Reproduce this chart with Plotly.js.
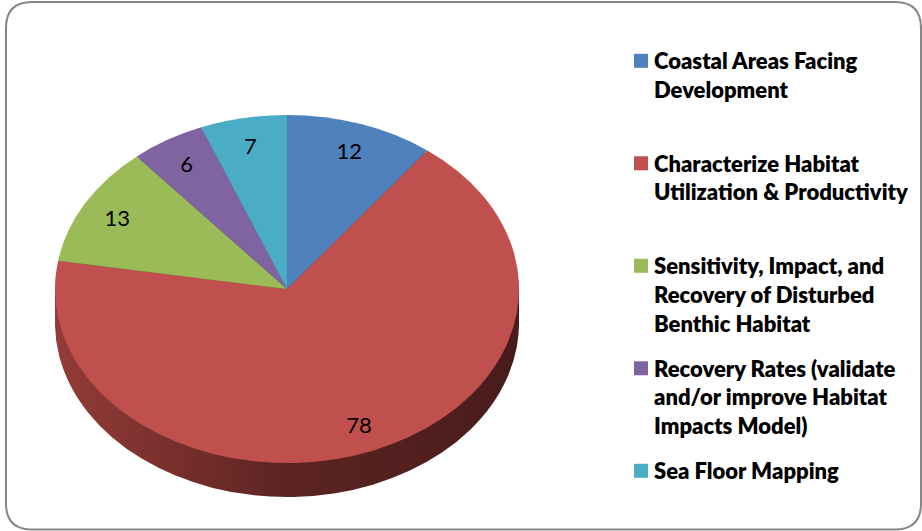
<!DOCTYPE html>
<html><head><meta charset="utf-8">
<script src="https://cdn.plot.ly/plotly-3.0.1.min.js"></script>
<style>html,body{margin:0;padding:0;background:#fff}#chart{width:922px;height:531px}</style>
</head><body><div id="chart"></div>
<script>
// ---- data ----
const categories = [
  "Coastal Areas Facing<br>Development",
  "Characterize Habitat<br>Utilization & Productivity",
  "Sensitivity, Impact, and<br>Recovery of Disturbed<br>Benthic Habitat",
  "Recovery Rates (validate<br>and/or improve Habitat<br>Impacts Model)",
  "Sea Floor Mapping"
];
const values = [12, 78, 13, 6, 7];
const colors = ["#4F81BD", "#C0504D", "#9BBB59", "#8064A2", "#4BACC6"];
const sideColors = ["#2c4a6e", "#6e2a28", "#5a6e32", "#4a3a5e", "#2b6473"];

// ---- layout constants ----
const W = 922, H = 531;
const CX = 287, CY = 289, R = 232, SQ = 0.75, DEPTH = 34;
const depths = [DEPTH, 26, 18, 10, 4];
const LABEL_R = 0.84;       // data labels placed at this fraction of the radius
const LEGEND_STEP = 102.5;  // vertical distance between legend entries (px)

const domain = {
  x: [(CX - R) / W, (CX + R) / W],
  y: [1 - (CY + R) / H, 1 - (CY - R) / H]
};

const common = {
  type: "pie", labels: categories, values: values, sort: false,
  direction: "clockwise", rotation: 0, domain: domain
};

const data = depths.map(d => Object.assign({}, common, {
  marker: {colors: sideColors, line: {width: 0}},
  textinfo: "none", hoverinfo: "skip", showlegend: false
}));
data.push(Object.assign({}, common, {
  marker: {colors: colors, line: {width: 0}},
  textinfo: "value", textposition: "inside", insidetextorientation: "horizontal",
  textfont: {family: "Lato, Calibri, sans-serif", size: 22, color: "#000"},
  hoverinfo: "label+value", showlegend: true
}));

function px(x) { return (x / W).toFixed(5); }
function py(y) { return (1 - y / H).toFixed(5); }
const bx0 = 6, by0 = 2, bx1 = 921, by1 = 529.5, br = 26;
const borderPath =
  "M" + px(bx0 + br) + "," + py(by0) +
  " L" + px(bx1 - br) + "," + py(by0) +
  " Q" + px(bx1) + "," + py(by0) + " " + px(bx1) + "," + py(by0 + br) +
  " L" + px(bx1) + "," + py(by1 - br) +
  " Q" + px(bx1) + "," + py(by1) + " " + px(bx1 - br) + "," + py(by1) +
  " L" + px(bx0 + br) + "," + py(by1) +
  " Q" + px(bx0) + "," + py(by1) + " " + px(bx0) + "," + py(by1 - br) +
  " L" + px(bx0) + "," + py(by0 + br) +
  " Q" + px(bx0) + "," + py(by0) + " " + px(bx0 + br) + "," + py(by0) + " Z";

const layout = {
  width: W, height: H,
  margin: {l: 0, r: 0, t: 0, b: 0},
  paper_bgcolor: "#fff",
  showlegend: true,
  legend: {
    x: 614 / W, xanchor: "left", y: 1 - 40 / H, yanchor: "top", valign: "top",
    font: {family: "Lato, Calibri, sans-serif", size: 22, color: "#000", weight: 800},
    bgcolor: "rgba(0,0,0,0)", tracegroupgap: 0
  },
  shapes: [{
    type: "path", xref: "paper", yref: "paper", path: borderPath,
    line: {color: "#868686", width: 2}, fillcolor: "rgba(0,0,0,0)", layer: "below"
  }]
};

Plotly.newPlot("chart", data, layout, {displayModeBar: false, staticPlot: true}).then(gd => {
  const svg = gd.querySelector(".main-svg");
  const NS = "http://www.w3.org/2000/svg";
  const defs = svg.querySelector("defs");
  const grad = document.createElementNS(NS, "linearGradient");
  grad.setAttribute("id", "sideGrad");
  grad.setAttribute("x1", "0"); grad.setAttribute("x2", "1");
  grad.setAttribute("y1", "0"); grad.setAttribute("y2", "0");
  [["0", "#943b38"], ["0.5", "#5c2422"], ["1", "#481c1b"]].forEach(s => {
    const st = document.createElementNS(NS, "stop");
    st.setAttribute("offset", s[0]); st.setAttribute("stop-color", s[1]);
    grad.appendChild(st);
  });
  defs.appendChild(grad);

  // tilt the pie: squash vertically, side layers shifted down
  const traces = gd.querySelectorAll(".pielayer > g.trace");
  traces.forEach((g, i) => {
    const d = i < depths.length ? depths[i] : 0;
    g.setAttribute("transform", `translate(0,${CY + d}) scale(1,${SQ}) translate(0,${-CY})`);
    if (i < depths.length) {
      const paths = g.querySelectorAll("path.surface");
      if (paths[1]) paths[1].style.fill = "url(#sideGrad)";
    }
  });
  // data labels: push to LABEL_R along their direction, keep glyphs unsquashed
  const top = traces[traces.length - 1];
  top.querySelectorAll("g.slicetext").forEach(t => {
    const b = t.getBBox();
    const cx = b.x + b.width / 2, cy = b.y + b.height / 2;
    const vx = cx - CX, vy = cy - CY;
    const len = Math.hypot(vx, vy) || 1;
    const k = LABEL_R * R / len;
    const dx = vx * (k - 1), dy = vy * (k - 1);
    t.setAttribute("transform",
      `translate(${dx},${dy}) translate(0,${cy}) scale(1,${1 / SQ}) translate(0,${-cy})`);
  });
  // legend: even spacing of entry tops, symbols closer to text and a bit larger
  const scroll = gd.querySelector(".legend .scrollbox");
  if (scroll) scroll.removeAttribute("clip-path");
  const items = gd.querySelectorAll(".legend g.traces");
  let top0 = null;
  items.forEach((it, i) => {
    const m = /translate\(([-\d.]+)[ ,]+([-\d.]+)\)/.exec(it.getAttribute("transform") || "");
    const x = m ? parseFloat(m[1]) : 0, y = m ? parseFloat(m[2]) : 0;
    const txt = it.querySelector("text.legendtext");
    const tb = txt ? txt.getBBox() : {y: 0};
    if (top0 === null) top0 = y + tb.y;
    const newY = top0 + i * LEGEND_STEP - tb.y;
    it.setAttribute("transform", `translate(${x},${newY})`);
    const pts = it.querySelector(".legendpoints");
    if (pts) {
      const pm = /translate\(([-\d.]+)[ ,]+([-\d.]+)\)/.exec(pts.getAttribute("transform") || "");
      const py0 = pm ? parseFloat(pm[2]) : 0;
      pts.setAttribute("transform", `translate(7,${py0})`);
    }
    it.querySelectorAll("path.legendpie").forEach(p => p.setAttribute("d", "M7,7V-7H-7V7Z"));
  });
});
</script>
</body></html>
